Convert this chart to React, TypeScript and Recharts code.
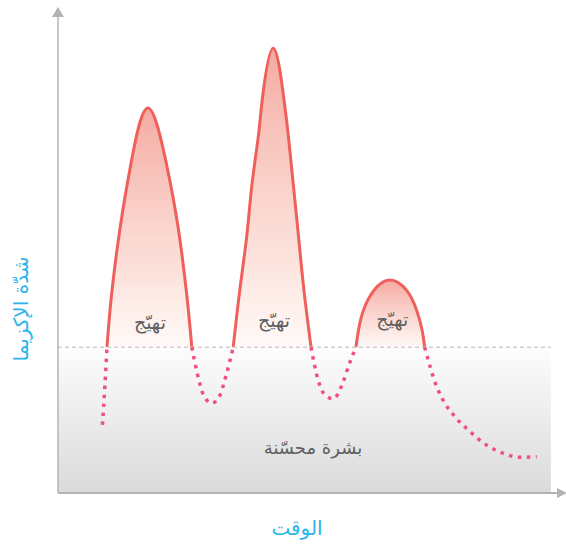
import { ComposedChart, Area, Line, XAxis, YAxis, ReferenceArea, ReferenceLine, ReferenceDot } from 'recharts';

// time (x) and eczema severity (y), 0-100 scale
const threshold = 30.2;
const plotEnd = 97.6;

const flare1Time = [9.7, 10.6, 12.3, 14.5, 17.8, 21.4, 23.8, 25.5, 26.5];
const flare1Level = [30.2, 41, 54.9, 68.5, 79.7, 68.5, 54.9, 41, 30.2];

const flare2Time = [34.7, 36.0, 37.4, 38.4, 39.7, 40.4, 42.6, 44.8, 45.6, 46.6, 47.6, 48.7, 50.1];
const flare2Level = [30.2, 42, 53.4, 63.8, 74.1, 81.0, 92.1, 81.0, 74.1, 63.8, 53.4, 42, 30.2];

const flare3Time = [59.0, 59.5, 60.5, 62.6, 65.7, 69.0, 71.0, 72.1, 72.6];
const flare3Level = [30.2, 33.7, 37.9, 42.0, 44.1, 42.0, 37.9, 33.7, 30.2];

const calm0Time = [8.8, 9.3, 9.7];
const calm0Level = [14.1, 22.4, 30.2];

const calm1Time = [26.5, 27.5, 28.8, 30.4, 31.9, 33.3, 34.7];
const calm1Level = [30.2, 25.1, 20.3, 18.6, 19.9, 24.4, 30.2];

const calm2Time = [50.1, 51.5, 52.7, 54.5, 56.4, 57.6, 59.0];
const calm2Level = [30.2, 23.4, 20.5, 19.5, 22.8, 26.5, 30.2];

const calm3Time = [72.6, 75.0, 76.6, 78.6, 81.6, 84.9, 88.2, 91.5, 94.8];
const calm3Level = [30.2, 22.0, 18.6, 15.8, 12.7, 9.9, 8.2, 7.4, 7.5];

const flareLabel = 'تهيّج';
const calmLabel = 'بشرة محسّنة';
const xTitle = 'الوقت';
const yTitle = 'شدّة الإكزيما';

const toPoints = (t: number[], v: number[]) => t.map((x, i) => ({ x, y: v[i] }));

const flares = [
  { id: 'f1', data: toPoints(flare1Time, flare1Level) },
  { id: 'f2', data: toPoints(flare2Time, flare2Level) },
  { id: 'f3', data: toPoints(flare3Time, flare3Level) },
];
const calms = [
  toPoints(calm0Time, calm0Level),
  toPoints(calm1Time, calm1Level),
  toPoints(calm2Time, calm2Level),
  toPoints(calm3Time, calm3Level),
];
const flarePeaks = [
  { x: 18.2, y: 35.4 },
  { x: 42.8, y: 35.8 },
  { x: 66.2, y: 36.0 },
];

const FONT = '"DejaVu Sans", sans-serif';
const AXIS = '#b3b3b3';

const ArrowUp = (p: any) => (
  <path d={`M${p.cx},${p.cy - 3} L${p.cx - 6},${p.cy + 7} L${p.cx + 6},${p.cy + 7} Z`} fill={AXIS} />
);
const ArrowRight = (p: any) => (
  <path d={`M${p.cx + 4},${p.cy} L${p.cx - 6},${p.cy - 5} L${p.cx - 6},${p.cy + 5} Z`} fill={AXIS} />
);

export default function App() {
  return (
    <div style={{ position: 'absolute', left: 0, top: 0, width: 566, height: 552, background: '#fff', fontFamily: FONT }}>
      <ComposedChart width={566} height={552} margin={{ top: 10, right: 3, bottom: 59, left: 58 }}>
        <defs>
          {flares.map((f) => (
            <linearGradient key={f.id} id={`grad-${f.id}`} x1="0" y1="0" x2="0" y2="1">
              <stop offset="0%" stopColor="#f3a096" stopOpacity={0.9} />
              <stop offset="70%" stopColor="#fbd6cd" stopOpacity={0.7} />
              <stop offset="100%" stopColor="#fff5f2" stopOpacity={0.6} />
            </linearGradient>
          ))}
          <linearGradient id="calmGrad" x1="0" y1="0" x2="0" y2="1">
            <stop offset="0%" stopColor="#fdfdfd" />
            <stop offset="100%" stopColor="#dadada" />
          </linearGradient>
        </defs>
        <XAxis type="number" dataKey="x" domain={[0, 100]} hide allowDataOverflow />
        <YAxis type="number" dataKey="y" domain={[0, 100]} hide allowDataOverflow />
        <ReferenceArea x1={0} x2={plotEnd} y1={0} y2={threshold} fill="url(#calmGrad)" fillOpacity={1} stroke="none" />
        <ReferenceLine
          segment={[{ x: 0, y: threshold }, { x: plotEnd, y: threshold }]}
          stroke="#cfcfcf"
          strokeWidth={1.5}
          strokeDasharray="4 3"
        />
        <ReferenceLine x={0} stroke={AXIS} strokeWidth={1.5} />
        <ReferenceLine y={0} stroke={AXIS} strokeWidth={2} />
        <ReferenceDot x={0} y={100} r={0} shape={ArrowUp} ifOverflow="visible" />
        <ReferenceDot x={100} y={0} r={0} shape={ArrowRight} ifOverflow="visible" />
        {flares.map((f) => (
          <Area
            key={f.id}
            data={f.data}
            dataKey="y"
            type="natural"
            baseValue={threshold}
            stroke="#ef5f5c"
            strokeWidth={3}
            fill={`url(#grad-${f.id})`}
            fillOpacity={1}
            isAnimationActive={false}
            dot={false}
            activeDot={false}
          />
        ))}
        {calms.map((c, i) => (
          <Line
            key={i}
            data={c}
            dataKey="y"
            type="monotone"
            stroke="#f0507f"
            strokeWidth={3.5}
            strokeDasharray="3.5 5.5"
            dot={false}
            activeDot={false}
            isAnimationActive={false}
          />
        ))}
        {flarePeaks.map((p, i) => (
          <ReferenceDot
            key={i}
            x={p.x}
            y={p.y}
            r={0}
            fill="none"
            stroke="none"
            label={{ value: flareLabel, position: 'center', fill: '#5f5f5f', fontSize: 19, fontFamily: FONT }}
          />
        ))}
        <ReferenceDot
          x={50.5}
          y={9.3}
          r={0}
          fill="none"
          stroke="none"
          label={{ value: calmLabel, position: 'center', fill: '#5f5f5f', fontSize: 18, fontFamily: FONT }}
        />
      </ComposedChart>
      <div style={{ position: 'absolute', left: 247, top: 516, width: 100, textAlign: 'center', color: '#2bb5ea', fontSize: 20 }}>
        {xTitle}
      </div>
      <div
        style={{
          position: 'absolute',
          left: 21,
          top: 310,
          width: 160,
          marginLeft: -80,
          marginTop: -13,
          textAlign: 'center',
          color: '#2bb5ea',
          fontSize: 20,
          transform: 'rotate(-90deg)',
          whiteSpace: 'nowrap',
        }}
      >
        {yTitle}
      </div>
    </div>
  );
}
